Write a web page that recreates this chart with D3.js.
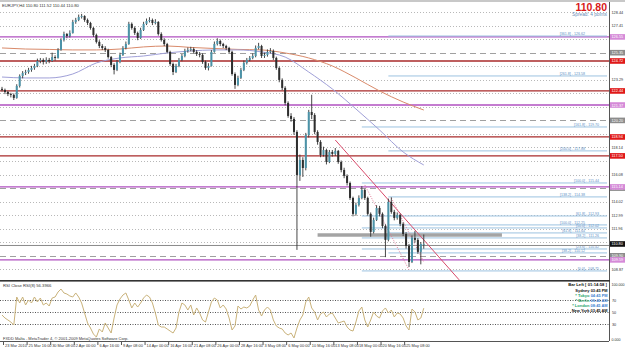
<!DOCTYPE html>
<html>
<head>
<meta charset="utf-8">
<script src="https://cdn.jsdelivr.net/npm/d3@7"></script>
<style>
  body { margin: 0; background: #fff; }
  svg { display: block; }
  text { font-family: "Liberation Sans", Arial, sans-serif; }
</style>
</head>
<body>
<script>
// EURJPY H4, one candle per 8 hours
const firstOpen = 122.60;
const closes = [122.52,122.36,122.21,122.14,121.91,122.82,123.58,123.81,123.88,124.04,
  124.19,124.34,124.72,124.80,124.65,124.80,124.72,125.02,124.95,125.56,
  126.32,126.77,126.62,126.85,127.69,127.84,128.07,128.14,127.84,127.61,
  127.23,126.70,126.17,125.86,125.71,125.56,125.02,124.42,124.04,124.65,
  125.18,125.71,126.01,127.54,127.23,126.85,126.47,127.08,127.54,127.76,
  127.84,127.61,127.69,126.77,126.32,126.01,125.41,124.49,123.88,124.34,
  124.80,125.10,125.48,125.56,125.63,125.41,125.25,125.18,124.65,124.19,
  124.34,125.41,126.01,126.24,126.01,125.86,125.71,125.41,123.73,122.90,
  123.43,124.04,124.57,124.80,124.95,125.10,125.71,125.86,125.10,125.18,
  125.41,125.48,124.95,124.19,123.28,122.67,121.53,120.54,120.31,119.32,
  116.05,117.19,116.58,119.09,120.84,120.61,119.32,118.56,117.57,117.95,
  117.04,117.80,117.65,117.88,117.04,116.43,115.98,115.44,114.30,113.09,
  113.77,114.30,114.91,114.30,113.09,111.72,112.63,113.54,113.09,112.17,
  111.11,114.00,113.24,112.78,113.01,112.33,111.56,110.65,109.43,111.26,
  111.11,110.20,110.80,110.80];
const highs = [122.75,122.62,122.45,122.30,122.25,122.95,123.70,123.95,124.05,124.20,
  124.35,124.50,124.90,124.95,124.92,125.00,124.95,125.35,125.15,125.70,
  126.45,126.95,126.85,127.05,127.85,128.00,128.25,128.30,128.20,127.95,
  127.70,127.30,126.80,126.30,126.00,125.85,125.65,125.10,124.55,124.80,
  125.35,125.85,126.20,127.70,127.65,127.35,126.95,127.25,127.70,127.95,
  128.05,127.95,127.90,127.75,126.90,126.45,126.10,125.50,124.60,124.50,
  124.95,125.25,125.65,125.75,125.80,125.75,125.55,125.40,125.30,124.75,
  124.55,125.55,126.20,126.45,126.35,126.10,125.95,125.80,125.50,123.85,
  123.60,124.20,124.75,124.95,125.10,125.30,125.90,126.10,125.95,125.35,
  125.60,125.70,125.60,125.05,124.30,123.40,122.80,121.65,120.75,120.45,
  119.45,117.60,117.40,119.25,121.00,122.15,120.75,119.45,118.70,118.20,
  118.05,117.95,117.95,118.10,117.95,117.15,116.60,116.10,115.55,114.40,
  113.95,114.50,115.20,115.00,114.40,113.20,112.80,113.75,113.70,113.20,
  112.30,114.25,114.35,113.40,113.20,113.10,112.45,111.70,110.80,111.45,
  111.80,111.25,110.95,111.52];
const lows = [122.40,122.20,122.05,121.95,121.75,121.85,122.70,123.40,123.65,123.75,
  123.90,124.05,124.25,124.55,124.45,124.50,124.55,124.65,124.75,124.90,
  125.50,126.20,126.45,126.50,126.80,127.55,127.75,127.95,127.70,127.45,
  127.10,126.55,126.05,125.70,125.55,125.40,124.90,124.25,123.70,123.95,
  124.55,125.10,125.60,125.95,127.10,126.70,126.30,126.40,127.00,127.45,
  127.65,127.45,127.50,126.65,126.20,125.85,125.30,124.35,123.65,123.80,
  124.25,124.70,125.00,125.35,125.45,125.30,125.10,125.00,124.50,124.05,
  124.00,124.30,125.35,125.90,125.85,125.70,125.55,125.25,123.60,122.60,
  122.80,123.35,123.95,124.45,124.70,124.85,125.00,125.60,124.95,124.95,
  125.05,125.30,124.80,124.05,123.10,122.50,121.35,120.40,120.10,119.10,
  110.35,115.60,115.90,116.40,118.90,120.30,119.15,118.35,117.40,117.45,
  116.85,116.95,117.45,117.50,116.90,116.25,115.80,115.25,114.15,112.90,
  112.95,113.65,114.20,114.15,112.95,111.35,111.60,112.55,112.90,112.00,
  109.80,111.00,113.10,112.60,112.65,112.15,111.40,110.45,109.05,109.35,
  110.90,110.05,109.25,110.44];
const rsiValues = [45,40,36.7,33.3,28.3,75,65,75,61.7,70,
  65,75,66.7,73.3,61.7,65,60,73.3,75,83.3,
  88.3,81.7,80,76.7,75,81.7,75,65,48.3,31.7,
  23.3,13.3,8.3,21.7,16.7,31.7,23.3,15,40,61.7,
  71.7,78.3,81.7,70,56.7,65,58.3,65,73.3,78.3,
  75,65,48.3,28.3,25,25,21.7,18.3,15,23.3,
  50,65,61.7,53.3,61.7,45,56.7,48.3,36.7,33.3,
  50,66.7,73.3,70,56.7,61.7,55,40,20,26.7,
  60,55,58.3,56.7,60,70,78.3,53.3,43.3,53.3,
  58.3,53.3,36.7,26.7,23.3,21.7,15,11.7,15,6.7,
  23.3,36.7,45,66.7,75,56.7,50,36.7,46.7,50,
  41.7,46.7,48.3,40,31.7,33.3,35,25,20,18.3,
  33.3,51.7,58.3,36.7,25,36.7,50,43.3,40,51.7,
  56.7,48.3,53.3,41.7,48.3,46.7,40,26.7,20,55,
  50,36.7,40,56.4];

// moving averages, sampled every 8 candles
const maIndex = [0,8,16,24,32,40,48,56,64,72,80,88,96,104,112,120,128,136,143];
const maSlow = [125.71,125.63,125.60,125.56,125.56,125.63,125.79,125.86,125.75,125.67,
  125.60,125.56,125.33,124.95,124.34,123.43,122.44,121.60,120.99];
const maFast = [123.50,123.43,123.43,123.73,124.57,124.95,125.10,125.33,125.48,125.56,
  125.56,125.41,125.02,123.88,122.59,121.07,119.47,117.80,116.81];

const timeLabels = ["23 Mar 2010","25 Mar 16:00","30 Mar 08:00","2 Apr 00:00","6 Apr 16:00",
  "9 Apr 08:00","14 Apr 00:00","16 Apr 16:00","21 Apr 08:00","26 Apr 00:00","28 Apr 16:00",
  "3 May 08:00","6 May 00:00","10 May 16:00","13 May 08:00","18 May 00:00","20 May 16:00","25 May 08:00"];
const priceTicks = [128.44,127.41,126.38,125.35,124.32,123.29,122.26,121.23,120.20,119.17,
  118.14,117.11,116.08,115.05,114.02,112.99,111.96,110.93,109.90,108.87];
const dashedLevels = [125.35,120.20,115.05,109.90];
const purpleLevels = [126.55,121.37,115.14,109.59];
const redLevels = [124.72,122.44,118.94,117.50];

const fibPrices = [126.62,123.58,119.70,117.88,115.44,114.38,112.93,112.25,112.02,111.64,111.26,110.42,110.12,108.75];
const fibRatios = ["361.8","261.8","161.8","200.0","100.0","138.2","61.8","100.0","50.0","61.8","38.2","23.6","38.2","0.0"];
const fibStarts = [131,131,122,131,122,131,122,131,122,131,122,122,131,122];

const rsiLevels = [70,50,30];
const bidPrice = 110.80;
const zonePrice = 111.49, zoneFrom = 107, zoneTo = 169.5;
const trendLine = [[113,118.71],[155,108.07]];
const channelLines = [[[123,115.29],[138,108.83]],[[132,114.30],[143,109.43]]];

const W = 625, H = 349, axisX = 609;
const svg = d3.select("body").append("svg").attr("width", W).attr("height", H);

const x = d3.scaleLinear().domain([0, 205.8]).range([2, axisX]);
const y = d3.scaleLinear().domain([108.06, 128.75]).range([280, 8]);
const yR = d3.scaleLinear().domain([0, 100]).range([342, 282]);

// tiny text: draw big and scale down, so the browser's minimum font size does not kick in
function tinyText(parent, tx, ty, size, str, fill, anchor, bold) {
  const k = 0.25;
  const t = parent.append("g").attr("transform", `translate(${tx},${ty}) scale(${k})`)
    .append("text").attr("font-size", size / k).attr("fill", fill || "#333")
    .attr("text-anchor", anchor || "start").text(str);
  if (bold) t.attr("font-weight", "bold");
  return t;
}

svg.append("rect").attr("width", W).attr("height", 2).attr("fill", "#c8c8c8");

svg.append("clipPath").attr("id", "mainClip").append("rect")
  .attr("x", 0).attr("y", 2).attr("width", axisX).attr("height", 278);
const main = svg.append("g").attr("clip-path", "url(#mainClip)");

// grid
main.selectAll(".grid").data(priceTicks.filter(p => !dashedLevels.includes(p))).enter().append("line")
  .attr("x1", 0).attr("x2", axisX).attr("y1", d => Math.round(y(d)) + 0.5).attr("y2", d => Math.round(y(d)) + 0.5)
  .attr("stroke", "#b8b8b8").attr("stroke-dasharray", "1,2");
main.selectAll(".dash").data(dashedLevels).enter().append("line")
  .attr("x1", 0).attr("x2", axisX).attr("y1", d => Math.round(y(d)) + 0.5).attr("y2", d => Math.round(y(d)) + 0.5)
  .attr("stroke", "#a0a0a0").attr("stroke-dasharray", "6,4");

main.selectAll(".purple").data(purpleLevels).enter().append("line")
  .attr("x1", 0).attr("x2", axisX).attr("y1", d => y(d)).attr("y2", d => y(d))
  .attr("stroke", "#b050c0").attr("stroke-width", 1.3);
main.selectAll(".red").data(redLevels).enter().append("line")
  .attr("x1", 0).attr("x2", axisX).attr("y1", d => y(d)).attr("y2", d => y(d))
  .attr("stroke", "#a82a2a").attr("stroke-width", 1.3);

// fibonacci levels
main.selectAll(".fib").data(fibPrices).enter().append("line")
  .attr("x1", (d, i) => x(fibStarts[i])).attr("x2", axisX - 2)
  .attr("y1", d => y(d)).attr("y2", d => y(d))
  .attr("stroke", "#9cc2e0").attr("stroke-width", 1);
fibPrices.forEach((p, i) => {
  tinyText(main, axisX - 10 - (fibStarts[i] === 131 ? 14 : 0), y(p) - 0.8, 3.6,
    "[" + fibRatios[i] + "] - " + p.toFixed(2), "#5b8fc4", "end");
});

// zone and bid
main.append("line").attr("x1", x(zoneFrom)).attr("x2", x(zoneTo))
  .attr("y1", y(zonePrice)).attr("y2", y(zonePrice)).attr("stroke", "#a4a4a4").attr("stroke-width", 3.5);
main.append("line").attr("x1", 0).attr("x2", axisX)
  .attr("y1", y(bidPrice) + 1.5).attr("y2", y(bidPrice) + 1.5).attr("stroke", "#8a8a8a");

// moving averages
const maLine = d3.line().x(d => x(d[0])).y(d => y(d[1])).curve(d3.curveMonotoneX);
main.append("path").attr("d", maLine(maIndex.map((k, i) => [k, maSlow[i]])))
  .attr("fill", "none").attr("stroke", "#d98a6a").attr("stroke-width", 1);
main.append("path").attr("d", maLine(maIndex.map((k, i) => [k, maFast[i]])))
  .attr("fill", "none").attr("stroke", "#a0a0d8").attr("stroke-width", 1);

// trend lines
main.append("line").attr("x1", x(trendLine[0][0])).attr("y1", y(trendLine[0][1]))
  .attr("x2", x(trendLine[1][0])).attr("y2", y(trendLine[1][1]))
  .attr("stroke", "#d84a6a").attr("stroke-width", 1);
main.selectAll(".chan").data(channelLines).enter().append("line")
  .attr("x1", d => x(d[0][0])).attr("y1", d => y(d[0][1]))
  .attr("x2", d => x(d[1][0])).attr("y2", d => y(d[1][1]))
  .attr("stroke", "#e07a98").attr("stroke-dasharray", "1,1.5");

// candles
const bars = closes.map((c, i) => ({ i, o: i ? closes[i - 1] : firstOpen, c, h: highs[i], l: lows[i] }));
const cg = main.selectAll(".candle").data(bars).enter().append("g");
cg.append("line").attr("x1", d => x(d.i)).attr("x2", d => x(d.i))
  .attr("y1", d => y(d.h)).attr("y2", d => y(d.l)).attr("stroke", "#333").attr("stroke-width", 0.9);
cg.append("rect").attr("x", d => x(d.i) - 1).attr("width", 2)
  .attr("y", d => y(Math.max(d.o, d.c)))
  .attr("height", d => Math.max(0.8, Math.abs(y(d.o) - y(d.c))))
  .attr("fill", d => d.c >= d.o ? "#4b93a8" : "#2e2e2e");

// title
tinyText(svg, 2, 6.5, 4.2, "EURJPY,H4  110.80 111.52 110.44 110.80", "#333");
svg.append("text").attr("x", 607).attr("y", 11).attr("text-anchor", "end")
  .attr("font-size", 10.5).attr("font-weight", "bold").attr("fill", "#d81818").text("110.80");
tinyText(svg, 607, 16, 4.8, "Spread: 4 points", "#6a8fb8", "end");

// right price axis
svg.append("line").attr("x1", axisX + 0.5).attr("x2", axisX + 0.5).attr("y1", 2).attr("y2", 341).attr("stroke", "#555");
const boxes = [].concat(
  dashedLevels.map(p => ({ p, bg: "#8c8c8c", fg: "#fff" })),
  purpleLevels.map(p => ({ p, bg: "#d58ad8", fg: "#fff" })),
  redLevels.map(p => ({ p, bg: "#e01818", fg: "#fff" })),
  [{ p: bidPrice, bg: "#111", fg: "#fff" }]);
priceTicks.filter(t => !boxes.some(b => Math.abs(y(b.p) - y(t)) < 5.5)).forEach(t => {
  tinyText(svg, axisX + 2.5, y(t) + 1.5, 3.8, t.toFixed(2), "#333");
});
boxes.forEach(b => {
  svg.append("rect").attr("x", axisX + 1).attr("y", y(b.p) - 2.8).attr("width", W - axisX - 1).attr("height", 5.6).attr("fill", b.bg);
  tinyText(svg, axisX + 2.5, y(b.p) + 1.5, 3.8, b.p.toFixed(2), b.fg);
});

// panel separator
svg.append("rect").attr("x", 0).attr("y", 280).attr("width", axisX + 1).attr("height", 1.6).attr("fill", "#333");

// RSI panel
svg.selectAll(".rl").data(rsiLevels).enter().append("line")
  .attr("x1", 0).attr("x2", axisX).attr("y1", d => Math.round(yR(d)) + 0.5).attr("y2", d => Math.round(yR(d)) + 0.5)
  .attr("stroke", "#555").attr("stroke-dasharray", "1,1.5");
svg.append("path").attr("d", d3.line().x((d, i) => x(i)).y(d => yR(d))(rsiValues))
  .attr("fill", "none").attr("stroke", "#c9b27a").attr("stroke-width", 1);
rsiLevels.forEach(l => tinyText(svg, axisX + 3, yR(l) + 1.5, 3.8, String(l), "#333"));
tinyText(svg, axisX + 2.5, 286, 3.6, "100.000", "#333");
tinyText(svg, axisX + 2.5, 340.5, 3.6, "0.000", "#333");
tinyText(svg, 3, 286.5, 4.2, "RSI Close", "#333");
tinyText(svg, 23, 286.5, 4.2, "RSI(8) 56.3966", "#333");
tinyText(svg, 3, 339.5, 4, "FXDD Malta - MetaTrader 4, \u00a9 2001-2009 MetaQuotes Software Corp.", "#333");

// session clock
const clock = [
  ["Sydney", "03:45 PM", "#111", "#111"],
  ["* Tokyo", "04:45 PM", "#2aa36b", "#3d7fd0"],
  ["* Berlin", "09:45 AM", "#2aa36b", "#3d7fd0"],
  ["* London", "08:45 AM", "#2aa36b", "#3d7fd0"],
  ["New York", "03:45 AM", "#111", "#111"]];
tinyText(svg, 607, 286, 4.2, "Bar Left [ 01:14:58 ]", "#111", "end", true);
clock.forEach((r, i) => {
  tinyText(svg, 589.5, 291.5 + i * 5.2, 4, r[0], r[2], "end", true);
  tinyText(svg, 607.5, 291.5 + i * 5.2, 3.9, r[1], r[3], "end", true);
});

// time axis
svg.append("line").attr("x1", 0).attr("x2", axisX).attr("y1", 341.5).attr("y2", 341.5).attr("stroke", "#555");
timeLabels.forEach((lab, i) => {
  const tx = x(i * 8) + 1.5;
  svg.append("line").attr("x1", tx).attr("x2", tx).attr("y1", 342).attr("y2", 345).attr("stroke", "#555");
  tinyText(svg, tx + 1.5, 347, 3.9, lab, "#333");
});
</script>
</body>
</html>
